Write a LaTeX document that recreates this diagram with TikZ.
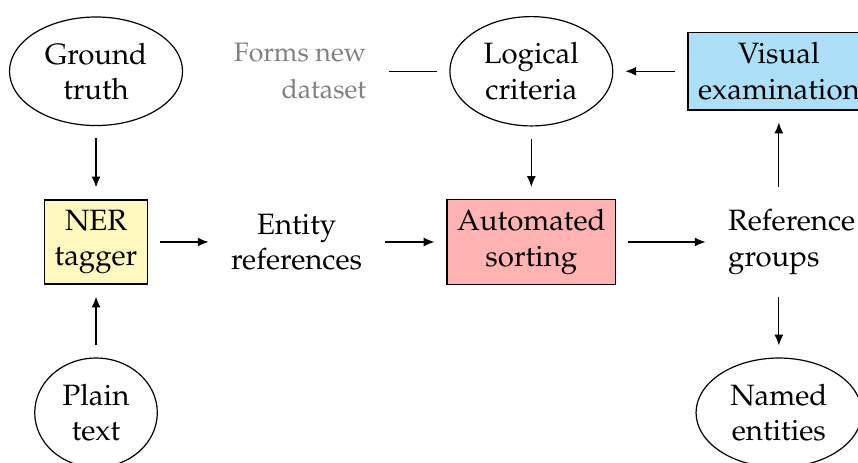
\documentclass[tikz,border=0pt]{standalone}
\usepackage[T1]{fontenc}
\usepackage{mathpazo}
\usepackage{tikz}
\usetikzlibrary{arrows.meta,shapes,positioning}

\definecolor{taggerfill}{RGB}{255,249,192}
\definecolor{sortfill}{RGB}{255,179,179}
\definecolor{viewfill}{RGB}{173,223,248}

\tikzset{
  data/.style={ellipse,draw,align=center},
  process/.style={rectangle,draw,align=center},
  result/.style={align=center},
  note/.style={align=right,text=gray,font=\fontsize{8.9}{12.3}\selectfont},
}

\begin{document}
\begin{tikzpicture}[->,>={Latex[length=3.6pt,width=3pt]},shorten >=4pt,shorten <=4pt,
    node distance=2cm,font=\fontsize{9.8}{11.8}\selectfont]
  \useasboundingbox (-1.125,-2.589) rectangle (8.927,2.835);
  % Tagging
  \node[process,fill=taggerfill] (ner)                               {NER\\tagger};
  \node[data]                    (gt)   [above of=ner]               {Ground\\truth};
  \node[data]                    (pt)   [below of=ner]               {Plain\\text};
  \node[result]                  (er)   [right of=ner,xshift=0.35cm] {Entity\\references};
  % Sorting
  \node[process,fill=sortfill]   (as)   [right of=er,xshift=0.75cm]  {Automated\\sorting};
  \node[data]                    (lc)   [above of=as]                {Logical\\criteria};
  \node[note]                    (forms) [left of=lc,xshift=-0.71cm] {Forms new\\dataset};
  \node[result,align=left]       (rg)   [right of=as,xshift=1.05cm]  {Reference\\groups};
  % Checking and output
  \node[process,fill=viewfill]   (ve)   [right of=lc,xshift=0.9cm]   {Visual\\examination};
  \node[data]                    (ne)   at (ve |- pt)                {Named\\entities};

  \path
  (gt) edge (ner)
  (pt) edge (ner)
  (ner) edge (er)
  (er) edge (as)
  (lc) edge (as)
  (as) edge (rg)
  (ve) edge (lc)
  (lc) edge[-] (forms)
  (ve |- rg.north) edge (ve)
  (ne |- rg.south) edge (ne);
\end{tikzpicture}
\end{document}
